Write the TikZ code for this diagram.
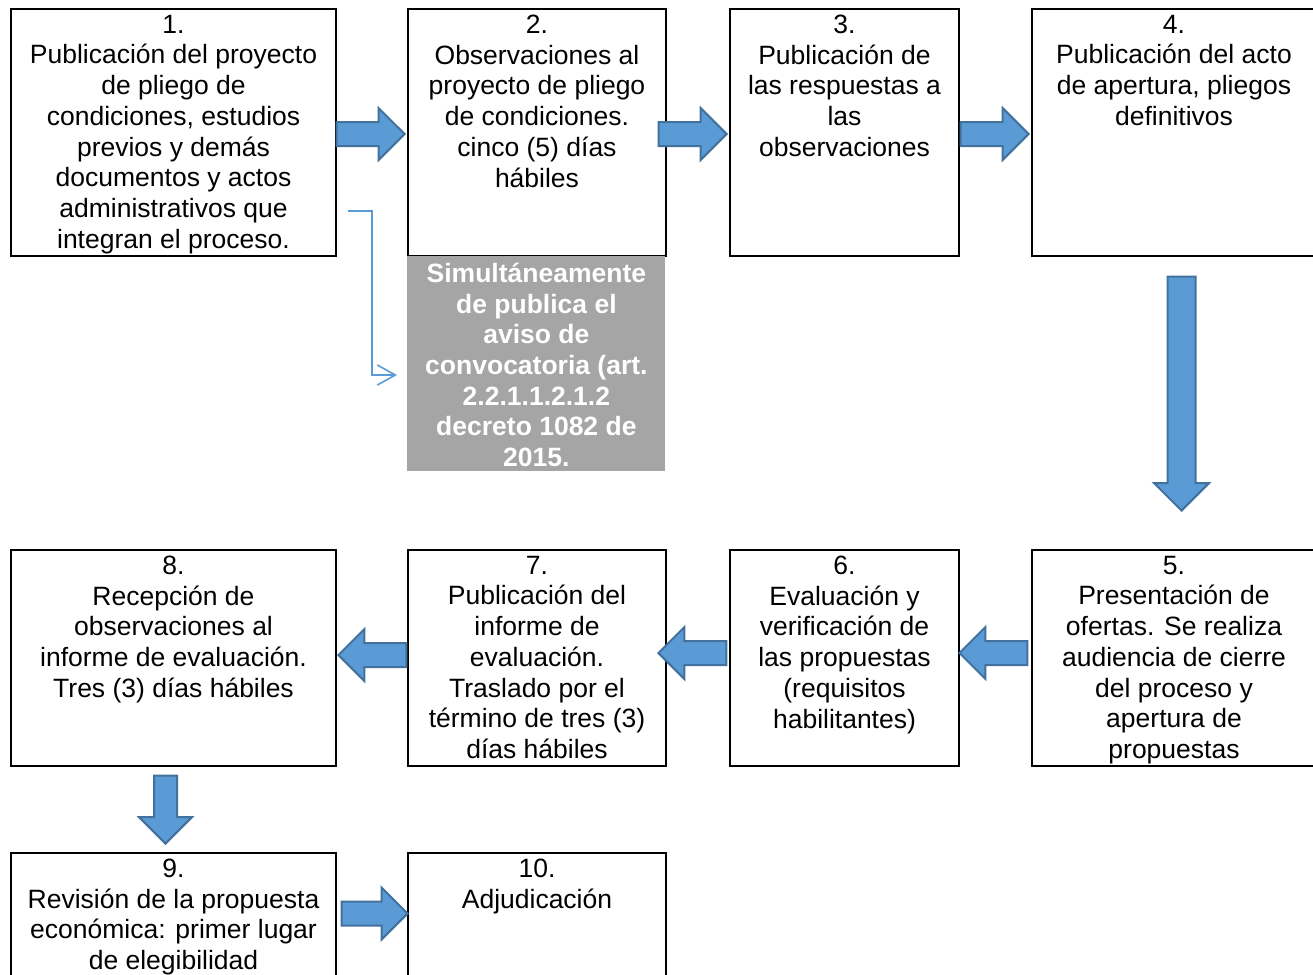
\documentclass[tikz,border=0pt]{standalone}
\usepackage{fontspec}
\setmainfont{Liberation Sans}
\usetikzlibrary{positioning,shapes.arrows,arrows.meta}

\definecolor{azulflecha}{HTML}{5B9BD5}
\definecolor{bordeflecha}{HTML}{41719C}
\definecolor{grisnota}{HTML}{A5A5A5}

\tikzset{
  paso/.style={draw,line width=1pt,anchor=north west,inner sep=0pt},
  texto/.style={anchor=north,align=center,inner xsep=0pt,inner ysep=3.3pt,
    font=\fontsize{13.25}{15.35}\selectfont},
  nota/.style={fill=grisnota,anchor=north west,inner sep=0pt,
    minimum width=129pt,minimum height=107.5pt},
  flecha/.style={single arrow,draw=bordeflecha,fill=azulflecha,line width=1pt,anchor=tip,
    inner xsep=0pt,inner ysep=5.5pt,single arrow head extend=7pt,minimum height=34pt},
  conector/.style={draw=azulflecha,line width=0.8pt,-{Straight Barb[length=9pt,width=10pt]}}
}

\begin{document}
\begin{tikzpicture}[x=0.5pt,y=-0.5pt]
  \useasboundingbox (0,0) rectangle (1313,975);
  \clip (0,0) rectangle (1313,975);
  % fila superior
  \node[paso,minimum width=162.5pt,minimum height=123.5pt] (p1) at (10,8) {};
  \node[paso,minimum width=129pt,minimum height=123.5pt] (p2) at (407,8) {};
  \node[paso,minimum width=114.5pt,minimum height=123.5pt] (p3) at (729,8) {};
  \node[paso,minimum width=142pt,minimum height=123.5pt] (p4) at (1031,8) {};
  \node[texto] (t1) at (p1.north) {1.\\Publicación del proyecto\\de pliego de\\condiciones, estudios\\previos y demás\\documentos y actos\\administrativos que\\integran el proceso.};
  \node[texto] (t2) at (p2.north) {2.\\Observaciones al\\proyecto de pliego\\de condiciones.\\cinco (5) días\\hábiles};
  \node[texto] (t3) at (p3.north) {3.\\Publicación de\\las respuestas a\\las\\observaciones};
  \node[texto] (t4) at (p4.north) {4.\\Publicación del acto\\de apertura, pliegos\\definitivos};
  % aviso de convocatoria
  \node[nota] (n2) at (407,256) {};
  \node[texto,text=white,font=\fontsize{13.25}{15.35}\selectfont\bfseries] (tn) at (n2.north) {Simultáneamente\\de publica el\\aviso de\\convocatoria (art.\\2.2.1.1.2.1.2\\decreto 1082 de\\2015.};
  \coordinate (c1) at (348,211);
  \coordinate (c2) at (397,375);
  \draw[conector] (c1) -- ++(24,0) |- (c2);
  % fila media
  \node[paso,minimum width=142pt,minimum height=108pt] (p5) at (1031,549) {};
  \node[paso,minimum width=114.5pt,minimum height=108pt] (p6) at (729,549) {};
  \node[paso,minimum width=129pt,minimum height=108pt] (p7) at (407,549) {};
  \node[paso,minimum width=162.5pt,minimum height=108pt] (p8) at (10,549) {};
  \node[texto] (t5) at (p5.north) {5.\\Presentación de\\ofertas. Se realiza\\audiencia de cierre\\del proceso y\\apertura de\\propuestas};
  \node[texto] (t6) at (p6.north) {6.\\Evaluación y\\verificación de\\las propuestas\\(requisitos\\habilitantes)};
  \node[texto] (t7) at (p7.north) {7.\\Publicación del\\informe de\\evaluación.\\Traslado por el\\término de tres (3)\\días hábiles};
  \node[texto] (t8) at (p8.north) {8.\\Recepción de\\observaciones al\\informe de evaluación.\\Tres (3) días hábiles};
  % fila inferior
  \node[paso,minimum width=162.5pt,minimum height=70pt] (p9) at (10,852) {};
  \node[paso,minimum width=129pt,minimum height=70pt] (p10) at (407,852) {};
  \node[texto] (t9) at (p9.north) {9.\\Revisión de la propuesta\\económica: primer lugar\\de elegibilidad};
  \node[texto] (t10) at (p10.north) {10.\\Adjudicación};
  % flechas de bloque (colocadas por la punta)
  \node[flecha] (f12) at (406,134) {};
  \node[flecha] (f23) at (728,134) {};
  \node[flecha] (f34) at (1030,134) {};
  \node[flecha,rotate=-90,minimum height=117pt,inner ysep=6.5pt,single arrow head extend=6.75pt] (f45) at (1181.5,512) {};
  \node[flecha,rotate=180] (f56) at (958,653) {};
  \node[flecha,rotate=180] (f67) at (657,653) {};
  \node[flecha,rotate=180] (f78) at (337,655) {};
  \node[flecha,rotate=-90,inner ysep=5.25pt,single arrow head extend=7.5pt] (f89) at (165.5,845) {};
  \node[flecha,minimum height=33pt] (f910) at (409,913.5) {};
\end{tikzpicture}
\end{document}
